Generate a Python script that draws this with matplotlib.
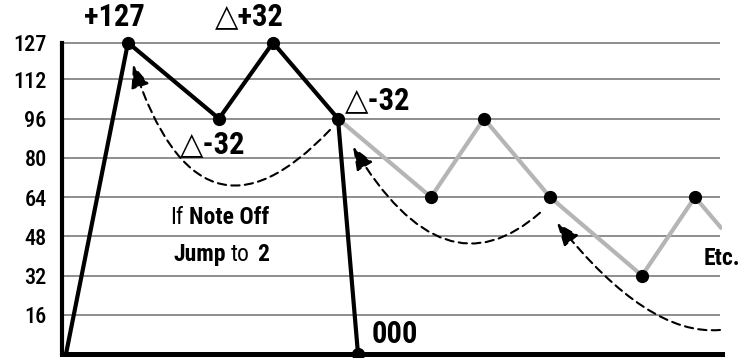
import matplotlib
matplotlib.use("Agg")
import matplotlib.pyplot as plt

# Datos de la envolvente (tiempo, valor)
env_x = [4, 66, 157, 211, 276, 296]
env_y = [0, 127, 96, 127, 96, 0]

# Repeticion en gris despues del salto
loop_x = [276, 369, 422, 488, 580, 633, 660]
loop_y = [96, 64, 96, 64, 32, 64, 51]

ticks = [16, 32, 48, 64, 80, 96, 112, 127]
tick_labels = ["16", "32", "48", "64", "80", "96", "112", "127"]

plt.rcParams['font.family'] = ['Roboto Condensed', 'DejaVu Sans']

fig = plt.figure(figsize=(7.42, 3.58), dpi=100)
ax = fig.add_axes([62 / 742, 4 / 358, 660 / 742, 331 / 358])
ax.set_xlim(0, 660)
ax.set_ylim(0, 135)

ax.hlines(ticks, 0, 658, color='#7a7a7a', lw=1.2, zorder=1)

ax.plot(loop_x, loop_y, color='#b5b5b5', lw=3, zorder=2, solid_capstyle='butt')
ax.plot(loop_x[1:-1], loop_y[1:-1], 'o', color='black', ms=8.5, zorder=4, clip_on=False)
ax.plot(env_x, env_y, color='black', lw=3, zorder=3, clip_on=False)
ax.plot(env_x[1:], env_y[1:], 'o', color='black', ms=8.5, zorder=4, clip_on=False)

# Flechas de salto (discontinuas)
flechas = [
    ((268, 91.4), (71, 118.0), -133.5, -71.6),
    ((478, 57.6), (291, 84.5), -138.7, -59),
    ((658, 9.8), (495, 53.5), 5, -51.3),
]
for ini, fin, a, b in flechas:
    ax.annotate("", xy=fin, xytext=ini,
                arrowprops=dict(arrowstyle='-|>,head_length=0.7,head_width=0.28',
                                color='black', lw=1.5,
                                linestyle=(0, (4, 2.5)), mutation_scale=20,
                                shrinkA=0, shrinkB=0,
                                connectionstyle=f"angle3,angleA={a},angleB={b}"),
                zorder=2)

grande = dict(fontsize=22, fontweight='bold', ha='center', va='center', clip_on=False)
ax.text(52, 137.6, "+127", **grande)
ax.text(187, 137.6, "\u25b3+32", **grande)
ax.text(151, 85.7, "\u25b3-32", **grande)
ax.text(316, 103.7, "\u25b3-32", **grande)
ax.text(333, 8.2, "000", **grande)

ax.text(121, 55.5, "If", fontsize=17, ha='right', va='center')
ax.text(127, 55.5, "Note Off", fontsize=17, fontweight='bold', ha='left', va='center')
ax.text(164, 40.4, "Jump", fontsize=17, fontweight='bold', ha='right', va='center')
ax.text(169, 40.4, "to", fontsize=17, ha='left', va='center')
ax.text(195, 40.4, "2", fontsize=17, fontweight='bold', ha='left', va='center')
ax.text(660, 38.8, "Etc.", fontsize=17, fontweight='bold', ha='center', va='center', clip_on=False)

ax.set_xticks([])
ax.set_yticks(ticks)
ax.set_yticklabels(tick_labels, fontsize=16, fontweight='medium')
ax.tick_params(axis='y', length=0, pad=11)

ax.spines['top'].set_visible(False)
ax.spines['right'].set_visible(False)
ax.spines['left'].set_linewidth(3)
ax.spines['left'].set_bounds(0, 127)
ax.spines['bottom'].set_linewidth(3.6)

fig.savefig("out.png", dpi=100)
